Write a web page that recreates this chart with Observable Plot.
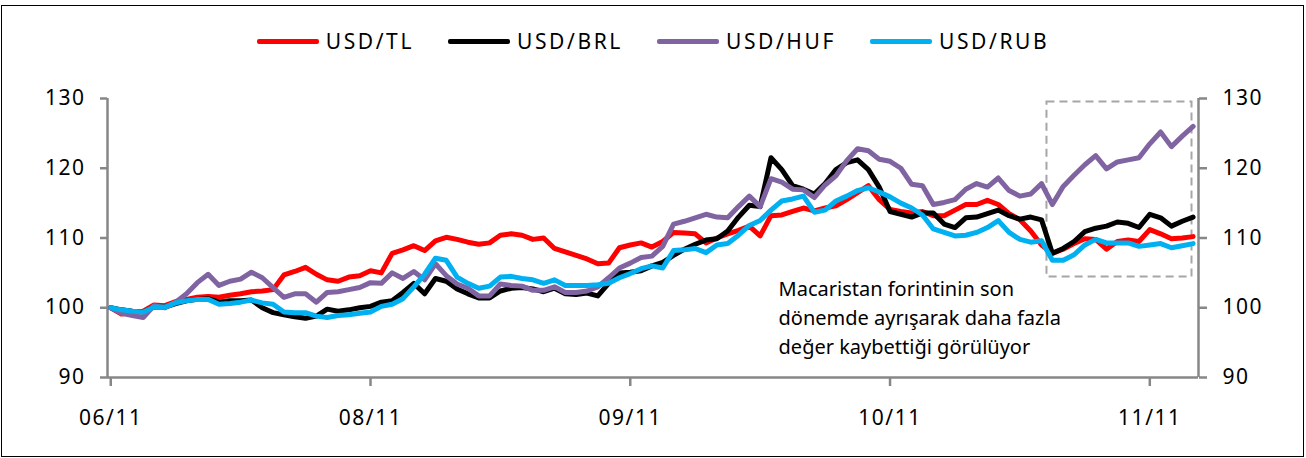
<!DOCTYPE html>
<html>
<head>
<meta charset="utf-8">
<script src="https://cdn.jsdelivr.net/npm/d3@7"></script>
<script src="https://cdn.jsdelivr.net/npm/@observablehq/plot@0.6"></script>
<style>
  body { margin: 0; background: #fff; }
  #wrap { position: relative; width: 1306px; height: 458px; overflow: hidden; font-family: "Noto Sans", sans-serif; }
  #frame { position: absolute; left: 1px; top: 5px; width: 1303px; height: 452px; border: 1.5px solid #000; box-sizing: border-box; }
  #legend { position: absolute; top: 27px; left: 0; width: 1306px; display: flex; justify-content: center; align-items: center; gap: 34px; font-size: 21px; letter-spacing: 2.6px; color: #000; }
  .item { display: flex; align-items: center; gap: 7px; }
  .sw { width: 62px; height: 5px; border-radius: 2px; }
  #chart { position: absolute; left: 0; top: 0; }
  #chart [aria-label$="tick label"] text { letter-spacing: 1.5px; }
</style>
</head>
<body>
<div id="wrap">
  <div id="frame"></div>
  <div id="chart"></div>
  <div id="legend"></div>
</div>
<script>
// ---- data ----
const series = ["USD/TL", "USD/BRL", "USD/HUF", "USD/RUB"];
const colors = ["#FF0000", "#000000", "#8064A2", "#00B0F0"];
const xTickPos = [0, 24, 48, 72, 96];
const xTickLabels = ["06/11", "08/11", "09/11", "10/11", "11/11"];
const yTicks = [90, 100, 110, 120, 130];

const usdTL = [100,99.1,99.3,99.5,100.4,100.3,100.9,101.2,101.5,101.6,
101.5,101.8,102.0,102.3,102.4,102.6,104.7,105.2,105.8,104.8,
104.0,103.8,104.4,104.6,105.3,105.0,107.8,108.3,108.9,108.2,
109.6,110.1,109.8,109.4,109.1,109.3,110.4,110.6,110.4,109.8,
110.0,108.5,108.0,107.5,107.0,106.3,106.4,108.6,109.0,109.3,
108.7,109.5,110.8,110.7,110.6,109.3,110.0,110.6,111.1,111.7,
110.3,113.2,113.3,113.8,114.3,113.9,114.3,114.6,115.5,116.5,
117.5,115.5,114.1,113.8,113.6,113.8,113.2,113.2,114.0,114.8,
114.8,115.4,114.8,113.5,112.6,111.0,109.0,107.8,108.4,109.2,
109.9,109.8,108.4,109.5,109.7,109.5,111.2,110.6,109.9,110.0,110.2];

const usdBRL = [100,99.7,99.5,99.4,100.1,100.1,100.6,101.0,101.2,101.3,
100.8,101.0,101.0,101.1,100.0,99.3,99.0,98.7,98.5,98.8,
99.8,99.5,99.7,100.0,100.2,100.8,101.0,102.2,103.5,102.0,
104.2,103.8,102.7,102.0,101.4,101.4,102.4,102.8,102.9,102.7,
102.3,102.8,102.0,101.9,102.1,101.7,103.5,105.0,105.1,105.3,
106.0,106.5,107.5,108.4,109.1,109.7,109.9,111.0,113.0,114.7,
114.5,121.5,119.8,117.5,117.0,116.3,117.8,119.8,120.8,121.2,
119.8,117.3,113.8,113.4,113.0,113.6,113.6,112.0,111.5,112.9,
113.0,113.5,114.0,113.2,112.7,113.0,112.6,107.8,108.5,109.5,
110.9,111.4,111.7,112.3,112.1,111.5,113.4,112.9,111.7,112.4,113.0];

const usdHUF = [100,99.2,98.9,98.6,100.3,100.0,100.8,102.0,103.6,104.8,
103.2,103.8,104.1,105.1,104.3,102.9,101.5,102.0,102.0,100.8,
102.2,102.3,102.6,102.9,103.6,103.5,105.0,104.2,105.2,104.0,
106.3,104.6,103.4,102.8,101.7,101.7,103.4,103.2,103.1,102.5,
102.5,103.0,102.2,102.2,102.4,103.0,104.3,105.7,106.4,107.2,
107.4,108.8,112.0,112.4,112.9,113.4,113.0,112.9,114.5,116.0,
114.5,118.5,118.0,117.0,116.9,115.8,117.6,118.9,121.1,122.8,
122.5,121.3,121.0,120.0,117.7,117.5,114.8,115.1,115.5,117.0,
117.8,117.3,118.6,116.8,116.0,116.3,117.8,114.8,117.4,119.0,
120.5,121.8,119.9,120.9,121.2,121.5,123.5,125.2,123.1,124.6,126.0];

const usdRUB = [100,99.7,99.5,99.4,100.1,100.1,100.7,101.0,101.2,101.2,
100.5,100.6,100.8,101.1,100.7,100.5,99.4,99.3,99.3,98.8,
98.6,98.9,99.0,99.2,99.4,100.2,100.5,101.3,103.0,104.8,
107.1,106.8,104.4,103.5,102.8,103.1,104.4,104.5,104.2,104.0,
103.5,104.0,103.2,103.2,103.2,103.3,103.5,104.3,104.9,105.6,
106.0,105.7,108.2,108.3,108.5,107.9,109.0,109.2,110.4,111.8,
112.5,114.0,115.3,115.6,116.0,113.7,114.0,115.3,116.0,116.8,
117.2,116.6,115.9,115.0,114.3,113.3,111.3,110.8,110.3,110.4,
110.8,111.5,112.5,110.8,109.8,109.4,109.6,106.8,106.8,107.6,
109.0,109.8,109.3,109.3,109.3,108.8,109.0,109.2,108.6,108.9,109.2];

const noteLines = ["Macaristan forintinin son", "dönemde ayrışarak daha fazla", "değer kaybettiği görülüyor"];
const highlight = {x1: 86.5, x2: 99.9, y1: 104.4, y2: 129.5};
const note = {x: 61.7, y: 104.7};

// ---- build ----
const values = [usdTL, usdBRL, usdHUF, usdRUB];
const rows = series.flatMap((s, k) => values[k].map((v, i) => ({i, v, s})));
const xDomain = [-0.3, 100.5];
const yDomain = [90, 130];
const axisColor = "#878787";

const chart = Plot.plot({
  width: 1306,
  height: 458,
  marginTop: 98,
  marginBottom: 81,
  marginLeft: 107,
  marginRight: 108,
  style: {fontFamily: "Noto Sans", fontSize: "21px", color: "#000", background: "transparent", overflow: "visible"},
  x: {domain: xDomain, ticks: xTickPos},
  y: {domain: yDomain, ticks: yTicks},
  color: {domain: series, range: colors},
  marks: [
    Plot.ruleY([yDomain[0]], {stroke: axisColor, strokeWidth: 2.5}),
    Plot.ruleX(xDomain, {stroke: axisColor, strokeWidth: 2.5}),
    Plot.axisY({anchor: "left", ticks: yTicks, tickSize: 7, tickPadding: 15, stroke: axisColor, strokeWidth: 2.5, label: null}),
    Plot.axisY({anchor: "right", ticks: yTicks, tickSize: 8, tickPadding: 16, stroke: axisColor, strokeWidth: 2.5, label: null}),
    Plot.axisX({ticks: xTickPos, tickFormat: (d) => xTickLabels[xTickPos.indexOf(d)], tickSize: 9, tickPadding: 24, stroke: axisColor, strokeWidth: 2.5, label: null}),
    Plot.rect([highlight], {x1: "x1", x2: "x2", y1: "y1", y2: "y2", fill: "none", stroke: "#A6A6A6", strokeWidth: 2, strokeDasharray: "8,5"}),
    Plot.line(rows, {x: "i", y: "v", z: "s", stroke: "s", strokeWidth: 5, strokeLinejoin: "round", strokeLinecap: "round"}),
    Plot.text([note], {x: "x", y: "y", text: () => noteLines.join("\n"), textAnchor: "start", lineAnchor: "top", lineHeight: 1.45, fontSize: 20, fill: "#000"})
  ]
});
document.getElementById("chart").appendChild(chart);

// legend
const legend = document.getElementById("legend");
series.forEach((s, k) => {
  const item = document.createElement("div");
  item.className = "item";
  const sw = document.createElement("div");
  sw.className = "sw";
  sw.style.background = colors[k];
  const t = document.createElement("span");
  t.textContent = s;
  item.appendChild(sw);
  item.appendChild(t);
  legend.appendChild(item);
});
</script>
</body>
</html>
